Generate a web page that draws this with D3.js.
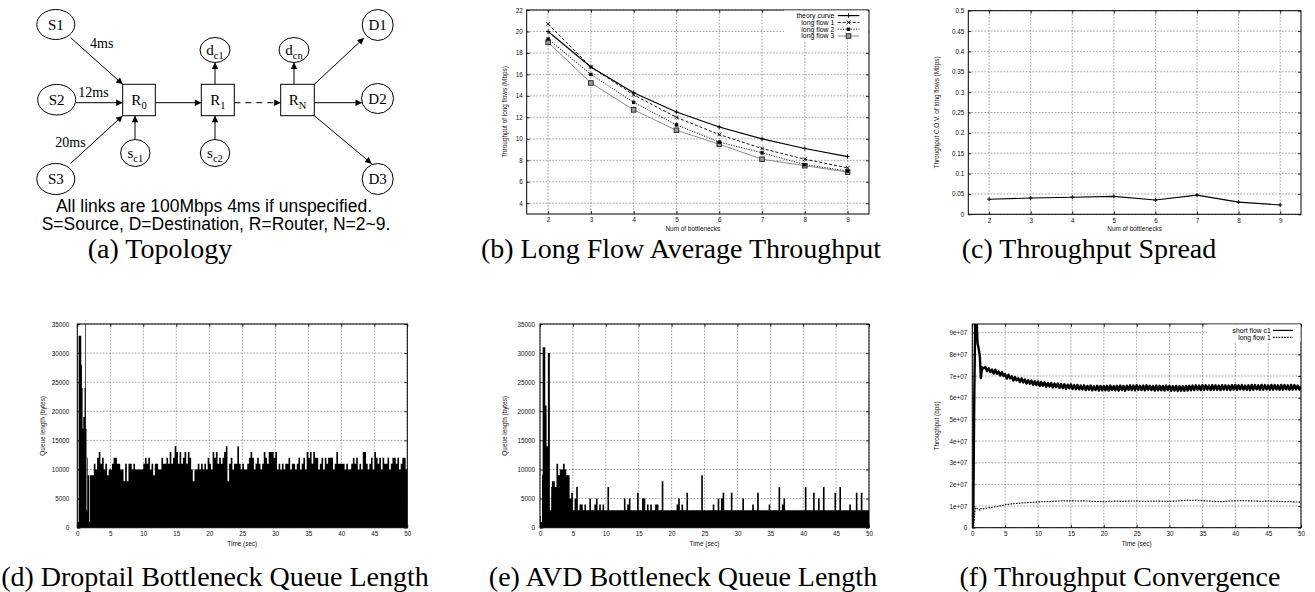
<!DOCTYPE html>
<html><head><meta charset="utf-8">
<script src="https://cdn.jsdelivr.net/npm/d3@7"></script>
<style>
body{margin:0;background:#fff;}
svg{display:block;}
</style></head><body>
<svg id="fig" width="1315" height="592"></svg>
<script>
// ================= DATA =================
// (b) long flow average throughput (Mbps) vs number of bottlenecks
const bottlenecks = [2,3,4,5,6,7,8,9];
const theoryCurve = [20.0,16.7,14.3,12.5,11.1,10.0,9.1,8.35];
const longFlow1   = [20.7,16.7,14.1,12.0,10.4,9.1,8.1,7.3];
const longFlow2   = [19.3,16.0,13.4,11.3,9.7,8.7,7.6,7.0];
const longFlow3   = [19.0,15.2,12.7,10.8,9.5,8.1,7.5,6.9];
const throughputTicks = [4,6,8,10,12,14,16,18,20,22];
const seriesNames = ["theory curve","long flow 1","long flow 2","long flow 3"];

// (c) throughput C.O.V.
const covValues = [0.037,0.040,0.042,0.044,0.035,0.047,0.030,0.023];
const covTicks = [0,0.05,0.1,0.15,0.2,0.25,0.3,0.35,0.4,0.45,0.5];
const covTickLabels = ["0","0.05","0.1","0.15","0.2","0.25","0.3","0.35","0.4","0.45","0.5"];

// shared time axis (d,e,f)
const timeTicks = [0,5,10,15,20,25,30,35,40,45,50];
const queueTicks = [0,5000,10000,15000,20000,25000,30000,35000];

// (d) droptail queue length (bytes): 0.0-1.9 s every 0.1 s, then 2.0-49.75 s every 0.25 s
const dropStartup = [1000,1000,33000,33000,33000,33000,28000,24000,17000,19000,19000,24000,40000,17000,3000,12000,9000,9000,1000,9000];
const dropSteady = [
 9000,9000,11000,10000, 12000,13000,11000,12000, 10000,11000,9000,10000, 10000,11000,12000,12000,
 11000,11000,10000,10000, 8000,11000,8000,11000, 11000,10000,11000,10000, 10000,10000,10000,10000,
 11000,12000,11000,12000, 10000,11000,9000,11000, 11000,10000,10000,12000, 11000,11000,12000,11000,
 13000,11000,12000,14000, 13000,11000,13000,11000, 12000,13000,11000,13000, 12000,10000,8000,10000,
 10000,11000,10000,11000, 10000,11000,10000,12000, 11000,10000,13000,12000, 13000,11000,12000,11000,
 12000,13000,14000,8000, 11000,12000,10000,11000, 11000,14000,11000,10000, 11000,10000,10000,11000,
 12000,13000,12000,10000, 11000,12000,11000,10000, 11000,13000,12000,11000, 13000,13000,13000,12000,
 13000,10000,11000,10000, 11000,10000,11000,11000, 12000,10000,11000,11000, 10000,11000,12000,10000,
 11000,12000,10000,13000, 12000,13000,11000,13000, 12000,12000,10000,11000, 12000,10000,12000,11000,
 12000,12000,12000,10000, 11000,13000,11000,11000, 11000,11000,10000,11000, 10000,10000,11000,12000,
 11000,12000,10000,11000, 10000,13000,13000,11000, 10000,11000,12000,10000, 13000,12000,11000,12000,
 10000,12000,11000,11000, 12000,10000,11000,12000, 12000,11000,12000,10000, 11000,12000,12000,10000];

// (e) AVD queue length (bytes): same sampling as (d)
const avdStartup = [2000,1000,1000,9000,31000,31000,31000,31000,21000,21000,14000,14000,30000,30000,30000,3000,3000,7000,8000,8000];
const avdSteady = [
 8000,7000,11000,9000, 10000,10000,11000,10000, 9000,9000,5000,6000, 3000,5000,7000,3000,
 4000,4000,3000,4000, 3000,3000,5000,3000, 3000,4000,5000,3000, 4000,3000,4000,3000,
 3000,7000,3000,3000, 3000,3000,3000,3000, 3000,3000,3000,5000, 3000,4000,5000,3000,
 3000,3000,3000,6000, 3000,3000,5000,5000, 3000,4000,3000,4000, 3000,3000,4000,4000,
 3000,3000,8000,3000, 3000,3000,3000,3000, 3000,3000,3000,4000, 5000,3000,4000,3000,
 3000,6000,3000,3000, 3000,3000,3000,3000, 3000,3000,9000,3000, 3000,3000,3000,3000,
 3000,4000,3000,3000, 5000,3000,5000,6000, 3000,3000,3000,3000, 6000,3000,3000,3000,
 3000,3000,3000,5000, 3000,3000,3000,3000, 3000,4000,3000,3000, 6000,3000,3000,3000,
 3000,3000,3000,4000, 3000,3000,3000,3000, 3000,7000,3000,4000, 5000,3000,3000,3000,
 3000,3000,3000,3000, 3000,3000,3000,3000, 3000,7000,3000,3000, 3000,3000,6000,3000,
 3000,5000,3000,3000, 7000,3000,3000,3000, 3000,3000,3000,6000, 3000,3000,7000,3000,
 3000,3000,3000,3000, 4000,3000,3000,3000, 6000,3000,3000,6000, 3000,3000,3000,3000];

// (f) throughput convergence (Mbps; axis labelled in bps)
const shortStartTime = [0,0.15,0.3,0.45,0.65,0.8,0.95,1.15,1.3,1.5,1.75];
const shortStartRate = [0,5,60,97,97,85,83,79,69,74,73.5];
const shortSteadyRate = [ // 2.0 .. 50.0 s every 0.25 s
 74.1,72.2,73.6,71.8, 73.0,71.1,72.9,71.0, 72.1,70.2,71.8,70.0, 70.9,68.8,70.6,68.9,
 69.9,67.9,69.5,68.0, 69.0,67.2,68.9,67.0, 68.4,66.5,68.1,66.4, 67.9,65.9,67.6,65.8,
 67.5,65.4,67.2,65.5, 67.1,65.0,66.8,65.2, 66.8,64.7,66.5,64.8, 66.5,64.5,66.3,64.4,
 66.2,64.1,66.0,64.3, 66.1,64.0,65.8,63.9, 65.9,63.8,65.6,63.8, 65.7,63.5,65.4,63.7,
 65.6,63.4,65.3,63.5, 65.5,63.3,65.4,63.4, 65.4,63.4,65.5,63.3, 65.6,63.5,65.3,63.4,
 65.5,63.3,65.6,63.5, 65.4,63.2,65.5,63.6, 65.7,63.5,65.6,63.4, 65.8,63.6,65.5,63.5,
 65.6,63.4,65.7,63.6, 65.5,63.5,65.4,63.3, 65.6,63.4,65.5,63.4, 65.4,63.3,65.6,63.5,
 65.5,63.2,65.3,63.3, 65.4,63.1,65.3,63.2, 65.3,63.2,65.4,63.3, 65.5,63.4,65.6,63.5,
 65.7,63.6,65.6,63.5, 65.8,63.6,65.7,63.7, 65.6,63.5,65.8,63.6, 65.7,63.6,65.6,63.5,
 65.8,63.7,65.7,63.6, 65.6,63.5,65.8,63.7, 65.9,63.6,65.7,63.8, 65.8,63.7,65.6,63.6,
 65.7,63.5,65.9,63.7, 65.8,63.8,65.7,63.6, 65.9,63.7,65.8,63.8, 65.7,63.6,65.9,63.7,
 65.8,63.8,65.7,63.6, 65.9,63.7,65.8,63.8, 65.7,63.6,65.9,63.7, 65.8,63.8,65.6,63.7,
 65.2];
const longStartTime = [0,0.2,0.3,0.45,0.6,0.8,1.0,1.15,1.3,1.5,1.75];
const longStartRate = [0,0,4,9,8.7,8.9,8.6,8.0,8.8,8.5,8.8];
const longSteadyRate = [ // 2 .. 50 s every 1 s
 9.0,9.4,9.9,10.6,11.0,11.3,11.5,11.7,11.9,12.0,12.1,12.3,12.4,12.4,12.3,12.4,12.2,12.1,12.0,
 12.2,12.3,12.2,12.3,12.3,12.1,12.2,12.3,12.2,12.2,12.3,12.5,12.7,12.7,12.4,12.3,12.1,12.0,12.3,
 12.4,12.5,12.4,12.3,12.2,12.3,12.2,12.1,12.0,11.9,11.8];
const rateTicks = [0,10,20,30,40,50,60,70,80,90];
const rateTickLabels = ["0","1e+07","2e+07","3e+07","4e+07","5e+07","6e+07","7e+07","8e+07","9e+07"];

// ================= DRAWING =================
const svg = d3.select('#fig');
const SANS = "'Liberation Sans', Arial, Helvetica, sans-serif";
const SERIF = "'Liberation Serif', 'Times New Roman', serif";
let clipId = 0;

function makePanel(o){
  const x = d3.scaleLinear().domain(o.xDomain).range([o.left, o.right]);
  const y = d3.scaleLinear().domain(o.yDomain).range([o.bottom, o.top]);
  const g = svg.append('g');
  const grid = g.append('g').attr('stroke','#7a7a7a').attr('stroke-width',0.7).attr('stroke-dasharray','1.6,1.6');
  grid.selectAll('line.vx').data(o.xTicks).join('line')
    .attr('x1',d=>x(d)).attr('x2',d=>x(d)).attr('y1',o.top).attr('y2',o.bottom);
  grid.selectAll('line.hy').data(o.yTicks).join('line')
    .attr('x1',o.left).attr('x2',o.right).attr('y1',d=>y(d)).attr('y2',d=>y(d));
  const styleAxis = sel => {
    sel.attr('font-size',6.3).attr('font-family',SANS);
    sel.select('.domain').remove();
    sel.selectAll('.tick line').attr('stroke','#000').attr('stroke-width',0.8);
    sel.selectAll('.tick text').attr('fill','#111');
  };
  g.append('g').attr('transform',`translate(0,${o.bottom})`)
    .call(d3.axisBottom(x).tickValues(o.xTicks).tickSize(-3).tickPadding(4).tickFormat(o.xFormat||(d=>d)))
    .call(styleAxis);
  g.append('g').attr('transform',`translate(0,${o.top})`)
    .call(d3.axisTop(x).tickValues(o.xTicks).tickSize(-3).tickFormat(''))
    .call(styleAxis);
  g.append('g').attr('transform',`translate(${o.left},0)`)
    .call(d3.axisLeft(y).tickValues(o.yTicks).tickSize(-3).tickPadding(o.yPad||4).tickFormat(o.yFormat||(d=>d)))
    .call(styleAxis);
  g.append('g').attr('transform',`translate(${o.right},0)`)
    .call(d3.axisRight(y).tickValues(o.yTicks).tickSize(-3).tickFormat(''))
    .call(styleAxis);
  const id = 'clip' + (clipId++);
  svg.append('clipPath').attr('id',id).append('rect')
    .attr('x',o.left).attr('y',o.top).attr('width',o.right-o.left).attr('height',o.bottom-o.top);
  const plot = g.append('g').attr('clip-path',`url(#${id})`);
  const top = g.append('g');
  top.append('rect').attr('x',o.left).attr('y',o.top).attr('width',o.right-o.left).attr('height',o.bottom-o.top)
    .attr('fill','none').attr('stroke','#000').attr('stroke-width',1);
  top.append('text').attr('x',(o.left+o.right)/2 + (o.xTitleDx||0)).attr('y',o.bottom+(o.xTitleDy||18.5))
    .attr('text-anchor','middle').attr('font-family',SANS).attr('font-size',6.4).attr('fill','#111').text(o.xTitle);
  top.append('text').attr('transform',`translate(${o.yTitleX},${(o.top+o.bottom)/2}) rotate(-90)`)
    .attr('text-anchor','middle').attr('dy','0.35em').attr('font-family',SANS).attr('font-size',6.4).attr('fill','#111').text(o.yTitle);
  return {x,y,plot,top};
}

// ---------- (b) ----------
{
  const P = makePanel({left:526.7,right:869,top:10,bottom:214,xDomain:[1.5,9.5],yDomain:[3,22],
    xTicks:bottlenecks,yTicks:throughputTicks,xTitle:'Num of bottlenecks',xTitleDx:-5,xTitleDy:17,
    yTitle:'Throughput of long flows (Mbps)',yTitleX:505});
  const series = [theoryCurve,longFlow1,longFlow2,longFlow3];
  const styles = [
    {stroke:'#000',w:1.2,dash:null,marker:'plus'},
    {stroke:'#000',w:0.9,dash:'3,2',marker:'cross'},
    {stroke:'#000',w:0.9,dash:'1.2,1.4',marker:'fsq'},
    {stroke:'#8c8c8c',w:1.0,dash:null,marker:'osq'}];
  const drawMarker = (sel, kind) => {
    if(kind==='plus') sel.append('path').attr('d','M-2.2,0H2.2M0,-2.2V2.2').attr('stroke','#000').attr('stroke-width',0.9);
    if(kind==='cross') sel.append('path').attr('d','M-1.9,-1.9L1.9,1.9M-1.9,1.9L1.9,-1.9').attr('stroke','#000').attr('stroke-width',0.9);
    if(kind==='fsq') sel.append('rect').attr('x',-1.7).attr('y',-1.7).attr('width',3.4).attr('height',3.4).attr('fill','#000');
    if(kind==='osq') sel.append('rect').attr('x',-2.3).attr('y',-2.3).attr('width',4.6).attr('height',4.6).attr('fill','#9a9a9a').attr('stroke','#222').attr('stroke-width',0.9);
  };
  const line = d3.line().x((d,i)=>P.x(bottlenecks[i])).y(d=>P.y(d));
  series.forEach((s,k)=>{
    const st = styles[k];
    P.plot.append('path').datum(s).attr('d',line).attr('fill','none')
      .attr('stroke',st.stroke).attr('stroke-width',st.w).attr('stroke-dasharray',st.dash);
  });
  [3,2,1,0].forEach(k=>{
    series[k].forEach((v,i)=>{
      const m = P.plot.append('g').attr('transform',`translate(${P.x(bottlenecks[i])},${P.y(v)})`);
      drawMarker(m, styles[k].marker);
    });
  });
  // legend
  const L = P.top.append('g');
  L.append('rect').attr('x',784).attr('y',10.5).attr('width',84).attr('height',29).attr('fill','#fff');
  const rowsY = [15.6,22.4,29.2,36.0];
  seriesNames.forEach((name,k)=>{
    const st = styles[k];
    L.append('text').attr('x',834.3).attr('y',rowsY[k]).attr('dy','0.35em').attr('text-anchor','end')
      .attr('font-family',SANS).attr('font-size',6.9).attr('fill','#000').text(name);
    L.append('line').attr('x1',837.7).attr('x2',859.3).attr('y1',rowsY[k]).attr('y2',rowsY[k])
      .attr('stroke',st.stroke).attr('stroke-width',st.w).attr('stroke-dasharray',st.dash);
    drawMarker(L.append('g').attr('transform',`translate(848.5,${rowsY[k]})`), st.marker);
  });
}

// ---------- (c) ----------
{
  const P = makePanel({left:968.3,right:1301,top:10.7,bottom:214.3,xDomain:[1.5,9.5],yDomain:[0,0.5],
    xTicks:bottlenecks,yTicks:covTicks,yFormat:(d,i)=>covTickLabels[i],xTitle:'Num of bottlenecks',xTitleDy:16.7,
    yTitle:'Throughput C.O.V. of long flows (Mbps)',yTitleX:936.7});
  const line = d3.line().x((d,i)=>P.x(bottlenecks[i])).y(d=>P.y(d));
  P.plot.append('path').datum(covValues).attr('d',line).attr('fill','none').attr('stroke','#000').attr('stroke-width',1.1);
  covValues.forEach((v,i)=>{
    P.plot.append('path').attr('transform',`translate(${P.x(bottlenecks[i])},${P.y(v)})`)
      .attr('d','M-2,0H2M0,-2V2').attr('stroke','#000').attr('stroke-width',0.9);
  });
}

// ---------- queue panels (d), (e) ----------
function queueSeries(startup, steady){
  const pts = startup.map((v,i)=>({t:i*0.1,v}));
  steady.forEach((v,i)=>pts.push({t:2+i*0.25,v}));
  pts.push({t:50,v:steady[steady.length-1]});
  return pts;
}
function queuePanel(left,right,yTitleX,yPad,pts){
  const P = makePanel({left,right,top:324,bottom:527.7,xDomain:[0,50],yDomain:[0,35000],
    xTicks:timeTicks,yTicks:queueTicks,xTitle:'Time (sec)',yTitle:'Queue length (bytes)',yTitleX,yPad});
  const area = d3.area().curve(d3.curveStepAfter).x(d=>P.x(d.t)).y0(P.y(0)).y1(d=>P.y(d.v));
  P.plot.append('path').datum(pts).attr('d',area).attr('fill','#000');
}
queuePanel(77.3,407.3,42.7,8,queueSeries(dropStartup,dropSteady));
queuePanel(540,869,505,5,queueSeries(avdStartup,avdSteady));

// ---------- (f) ----------
{
  const P = makePanel({left:972.3,right:1301,top:324,bottom:527.7,xDomain:[0,50],yDomain:[0,94],
    xTicks:timeTicks,yTicks:rateTicks,yFormat:(d,i)=>rateTickLabels[i],xTitle:'Time (sec)',
    yTitle:'Throughput (bps)',yTitleX:936.7,yPad:5});
  const shortPts = shortStartTime.map((t,i)=>({t,v:shortStartRate[i]}));
  shortSteadyRate.forEach((v,i)=>shortPts.push({t:2+i*0.25,v}));
  const longPts = longStartTime.map((t,i)=>({t,v:longStartRate[i]}));
  longSteadyRate.forEach((v,i)=>longPts.push({t:2+i,v}));
  const line = d3.line().x(d=>P.x(d.t)).y(d=>P.y(d.v));
  P.plot.append('path').datum(longPts).attr('d',line).attr('fill','none').attr('stroke','#000')
    .attr('stroke-width',1.1).attr('stroke-dasharray','1.6,1.2');
  P.plot.append('path').datum(shortPts).attr('d',line).attr('fill','none').attr('stroke','#000')
    .attr('stroke-width',2.4).attr('stroke-linejoin','round');
  const L = P.top.append('g');
  L.append('rect').attr('x',1207).attr('y',324.5).attr('width',93.5).attr('height',17).attr('fill','#fff');
  const names = ['short flow c1','long flow 1'];
  const ys = [330.4,337.4];
  names.forEach((n,k)=>{
    L.append('text').attr('x',1270.7).attr('y',ys[k]).attr('dy','0.35em').attr('text-anchor','end')
      .attr('font-family',SANS).attr('font-size',6.8).attr('fill','#000').text(n);
    L.append('line').attr('x1',1273).attr('x2',1293).attr('y1',ys[k]).attr('y2',ys[k])
      .attr('stroke','#000').attr('stroke-width',k?1.1:1.2).attr('stroke-dasharray',k?'1.6,1.2':null);
  });
}

// ---------- (a) topology ----------
{
  const T = svg.append('g');
  const defs = svg.append('defs');
  defs.append('marker').attr('id','arr').attr('viewBox','0 0 10 10').attr('refX',10).attr('refY',5)
    .attr('markerWidth',9).attr('markerHeight',6.5).attr('markerUnits','userSpaceOnUse').attr('orient','auto')
    .append('path').attr('d','M0,0L10,5L0,10z').attr('fill','#000');
  const nodes = [
    {cx:55.8,cy:24.5,rx:19,ry:15,main:'S1'},
    {cx:56.7,cy:99.7,rx:19,ry:15.3,main:'S2'},
    {cx:55.8,cy:179,rx:19,ry:15.5,main:'S3'},
    {cx:377.7,cy:25,rx:15.5,ry:15.5,main:'D1'},
    {cx:377.5,cy:98.5,rx:16,ry:15,main:'D2'},
    {cx:377.7,cy:179,rx:15.5,ry:15.5,main:'D3'},
    {cx:215,cy:50,rx:15,ry:12.5,main:'d',sub:'c1'},
    {cx:294,cy:50,rx:15,ry:12.5,main:'d',sub:'cn'},
    {cx:135.3,cy:153,rx:14.7,ry:13.5,main:'s',sub:'c1'},
    {cx:215,cy:153,rx:14.7,ry:13.5,main:'s',sub:'c2'}];
  const boxes = [
    {x:122.7,y:84.3,w:32.6,h:31.4,sub:'0'},
    {x:201.3,y:84.3,w:33,h:31.4,sub:'1'},
    {x:280.7,y:84.3,w:33.6,h:31.4,sub:'N'}];
  const links = [
    [70.7,37.7,122.7,84.3],[76,102.7,122.7,102.7],[70.7,163.3,122.7,115.7],[135,139.5,135,115.7],
    [155.3,102.7,201.3,102.7],[215,84.3,215,62.5],[215,139.5,215,115.7],
    [294,84.3,294,62.5],[314.3,84.3,364,38],[314.3,102.7,362,102.7],[314.3,115.7,371.7,163.7]];
  T.selectAll('line.lk').data(links).join('line')
    .attr('x1',d=>d[0]).attr('y1',d=>d[1]).attr('x2',d=>d[2]).attr('y2',d=>d[3])
    .attr('stroke','#000').attr('stroke-width',1).attr('marker-end','url(#arr)');
  T.append('line').attr('x1',234.3).attr('y1',102.7).attr('x2',280.7).attr('y2',102.7)
    .attr('stroke','#000').attr('stroke-width',1).attr('stroke-dasharray','6,5').attr('marker-end','url(#arr)');
  nodes.forEach(n=>{
    T.append('ellipse').attr('cx',n.cx).attr('cy',n.cy).attr('rx',n.rx).attr('ry',n.ry)
      .attr('fill','#fff').attr('stroke','#000').attr('stroke-width',1);
    const t = T.append('text').attr('x',n.cx).attr('y',n.cy+5).attr('text-anchor','middle')
      .attr('font-family',SERIF).attr('font-size',15).attr('fill','#000');
    t.append('tspan').text(n.main);
    if(n.sub) t.append('tspan').attr('dy',4).attr('font-size',10.5).text(n.sub);
  });
  boxes.forEach(b=>{
    T.append('rect').attr('x',b.x).attr('y',b.y).attr('width',b.w).attr('height',b.h)
      .attr('fill','#fff').attr('stroke','#000').attr('stroke-width',1);
    const t = T.append('text').attr('x',b.x+b.w/2).attr('y',b.y+b.h/2+5).attr('text-anchor','middle')
      .attr('font-family',SERIF).attr('font-size',15).attr('fill','#000');
    t.append('tspan').text('R');
    t.append('tspan').attr('dy',4).attr('font-size',10.5).text(b.sub);
  });
  [['4ms',101.7,48.3],['12ms',93.5,96.7],['20ms',70.5,146.7]].forEach(d=>{
    T.append('text').attr('x',d[1]).attr('y',d[2]).attr('text-anchor','middle')
      .attr('font-family',SERIF).attr('font-size',14).attr('fill','#000').text(d[0]);
  });
  T.append('text').attr('x',214).attr('y',206).attr('dy','0.35em').attr('text-anchor','middle').attr('font-family',SANS)
    .attr('font-size',17.5).attr('fill','#000').text('All links are 100Mbps 4ms if unspecified.');
  T.append('text').attr('x',216).attr('y',223.5).attr('dy','0.35em').attr('text-anchor','middle').attr('font-family',SANS)
    .attr('font-size',17.5).attr('fill','#000').text('S=Source, D=Destination, R=Router, N=2~9.');
}

// ---------- captions ----------
const captions = [
  ['(a) Topology',160,248],['(b) Long Flow Average Throughput',681,248],['(c) Throughput Spread',1089,248],
  ['(d) Droptail Bottleneck Queue Length',215,576],['(e) AVD Bottleneck Queue Length',683,576],['(f) Throughput Convergence',1120,576]];
captions.forEach(c=>{
  svg.append('text').attr('x',c[1]).attr('y',c[2]).attr('text-anchor','middle').attr('dy','0.35em')
    .attr('font-family',SERIF).attr('font-size',28).attr('fill','#000').text(c[0]);
});
</script>
</body></html>
